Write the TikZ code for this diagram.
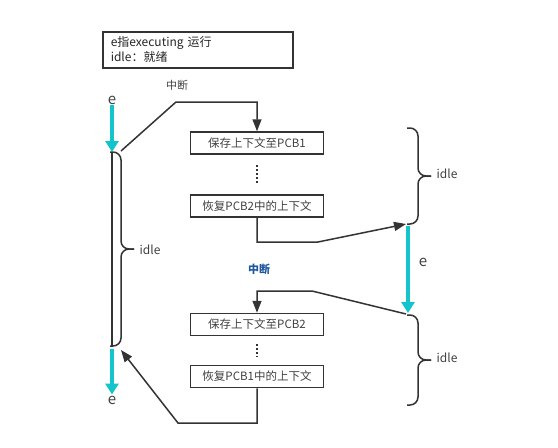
\documentclass[tikz,border=0pt]{standalone}
\usepackage{fontspec}
\setmainfont{Noto Sans CJK SC}
\usetikzlibrary{arrows.meta}
\definecolor{linegray}{RGB}{51,51,51}
\definecolor{textgray}{RGB}{64,64,64}
\definecolor{runcyan}{RGB}{20,196,204}
\definecolor{irqblue}{RGB}{30,86,160}

% idle brace: x, top, bottom
\newcommand{\idleBrace}[3]{%
  \draw[linegray, line width=1.5pt, rounded corners=8pt]
    (#1,#2) -- (#1+11,#2) -- (#1+11,{(#2+#3)/2}) -- (#1+24,{(#2+#3)/2});
  \draw[linegray, line width=1.5pt, rounded corners=8pt]
    (#1,#3) -- (#1+11,#3) -- (#1+11,{(#2+#3)/2}) -- (#1+24,{(#2+#3)/2});
}

\tikzset{
  stepbox/.style={draw=linegray, line width=1.5pt, minimum width=133pt,
    minimum height=22pt, inner sep=0pt, text=textgray,
    font=\fontsize{11.5}{13}\selectfont},
  flow/.style={draw=linegray, line width=1.5pt,
    -{Triangle[length=12pt,width=9pt]}},
  run/.style={draw=runcyan, line width=3.5pt,
    -{Triangle[length=11pt,width=13pt]}},
  lbl/.style={text=textgray, inner sep=1pt, font=\fontsize{12}{14}\selectfont},
}

\begin{document}
\begin{tikzpicture}[x=1pt, y=-1pt]
  \useasboundingbox (0,0) rectangle (558,448);

  % legend
  \node[draw=linegray, line width=1.5pt, anchor=north west, text width=174pt,
        minimum height=36pt, inner xsep=8pt, inner ysep=3pt, align=left,
        text=black!85, font=\fontsize{12}{15}\selectfont]
        (legend) at (102,31) {e指executing 运行\\idle：就绪};

  %% context switch steps
  \node[stepbox] (save1)    at (257,143)   {保存上下文至PCB1};
  \node[stepbox] (restore2) at (257,206)   {恢复PCB2中的上下文};
  \node[stepbox] (save2)    at (257,324.5) {保存上下文至PCB2};
  \node[stepbox] (restore1) at (257,376.5) {恢复PCB1中的上下文};

  \draw[linegray, line width=1.5pt, dash pattern=on 2pt off 2pt]
    ([yshift=-10pt]save1.south) -- ([yshift=10pt]restore2.north);
  \draw[linegray, line width=1.5pt, dash pattern=on 2pt off 2pt]
    ([yshift=-8pt]save2.south) -- ([yshift=8pt]restore1.north);

  %% process A (left)
  \node[lbl, font=\fontsize{15}{17}\selectfont] (eAtop) at (112,100) {e};
  \node[lbl, font=\fontsize{15}{17}\selectfont] (eAbot) at (112,400) {e};
  \coordinate (lbtop) at (112,152);
  \coordinate (lbbot) at (112,346);
  \coordinate (lbin)  at (121,151);
  \coordinate (lbout) at (121,350);
  \draw[run] (eAtop.south) -- (lbtop);
  \draw[run] (112,349) -- (eAbot.north);
  \idleBrace{110}{152}{346}
  \draw[linegray, line width=1.5pt] (lbtop) -- (lbbot);
  \node[lbl] (idleA) at (150,250) {idle};

  %% process B (right)
  \coordinate (rb1bot) at (406,224);
  \coordinate (rb2top) at (406,314);
  \idleBrace{407}{128}{224}
  \idleBrace{407}{315}{405}
  \draw[run] (408,226) -- (408,313);
  \node[lbl, font=\fontsize{15}{17}\selectfont] (eB) at (423,262) {e};
  \node[lbl] (idleB1) at (447,174) {idle};
  \node[lbl] (idleB2) at (447,358) {idle};

  %% interrupts
  \node[lbl, font=\fontsize{11}{13}\selectfont] (irq1) at (177,85) {中断};
  \node[lbl, text=irqblue, font=\fontsize{11}{13}\selectfont\bfseries]
    (irq2) at (259,269) {中断};

  \draw[flow] (lbin) -- (176,102) -| (save1.north);
  \draw[flow] (restore2.south) |- (318,242) -- (rb1bot);
  \draw[flow] (rb2top) -- (312,291) -| (save2.north);
  \draw[flow] (restore1.south) |- (178,423) -- (lbout);
\end{tikzpicture}
\end{document}
